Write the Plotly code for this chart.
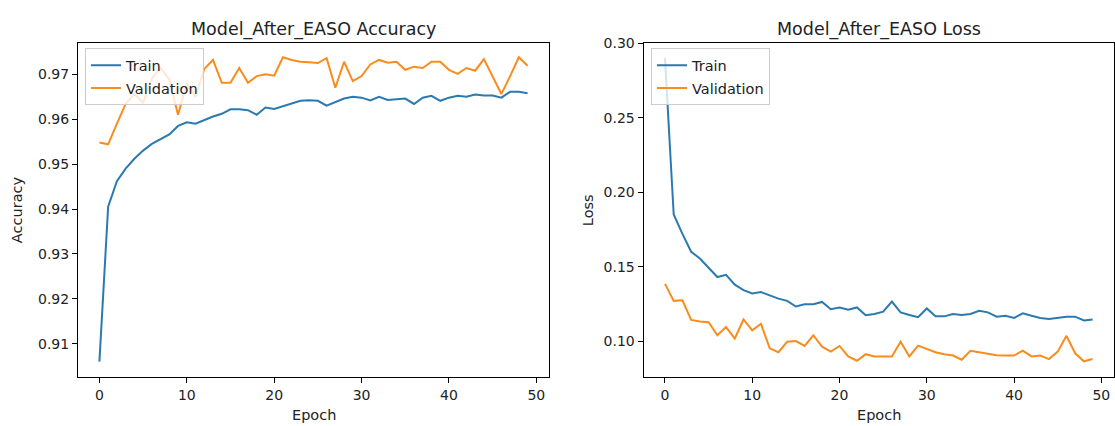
import plotly.graph_objects as go

epochs = list(range(50))

train_acc = [0.906, 0.9405, 0.9462, 0.949, 0.9512, 0.953, 0.9545, 0.9555, 0.9566, 0.9585,
             0.9593, 0.959, 0.9598, 0.9606, 0.9612, 0.9622, 0.9622, 0.962, 0.961, 0.9626,
             0.9623, 0.9629, 0.9635, 0.9641, 0.9642, 0.9641, 0.963, 0.9638, 0.9646, 0.965,
             0.9648, 0.9642, 0.965, 0.9643, 0.9645, 0.9646, 0.9634, 0.9648, 0.9652, 0.9641,
             0.9648, 0.9652, 0.965, 0.9655, 0.9653, 0.9653, 0.9648, 0.9661, 0.9661, 0.9658]

val_acc = [0.9548, 0.9544, 0.959, 0.9634, 0.9656, 0.9637, 0.969, 0.9715, 0.9688, 0.961,
           0.968, 0.965, 0.9712, 0.9732, 0.9681, 0.9681, 0.9714, 0.9681, 0.9696, 0.970,
           0.9697, 0.9738, 0.9732, 0.9728, 0.9727, 0.9725, 0.9736, 0.967, 0.9728, 0.9685,
           0.9696, 0.9722, 0.9732, 0.9726, 0.9728, 0.971, 0.9717, 0.9714, 0.9728, 0.9728,
           0.971, 0.9701, 0.9714, 0.9708, 0.9734, 0.9696, 0.9656, 0.9696, 0.9738, 0.9719]

train_loss = [0.290, 0.185, 0.172, 0.160, 0.1555, 0.1489, 0.143, 0.1445, 0.1379, 0.1342,
              0.132, 0.1329, 0.1307, 0.1285, 0.127, 0.1232, 0.1247, 0.1247, 0.1263, 0.1214,
              0.1226, 0.1211, 0.1226, 0.1173, 0.1182, 0.1197, 0.1265, 0.1193, 0.1175, 0.116,
              0.1219, 0.1166, 0.1166, 0.1182, 0.1175, 0.1182, 0.1204, 0.1193, 0.1164, 0.117,
              0.1155, 0.1186, 0.117, 0.1155, 0.1149, 0.1155, 0.1164, 0.1164, 0.1138, 0.1145]

val_loss = [0.1384, 0.127, 0.1274, 0.1142, 0.1131, 0.1127, 0.1039, 0.1094, 0.1017, 0.1145,
            0.1072, 0.1116, 0.0951, 0.0925, 0.0995, 0.100, 0.0967, 0.1039, 0.0962, 0.0929,
            0.0967, 0.0897, 0.0868, 0.0912, 0.0897, 0.0897, 0.0897, 0.0995, 0.0897, 0.0969,
            0.0945, 0.0925, 0.0912, 0.0903, 0.0875, 0.0934, 0.0925, 0.0914, 0.0905, 0.0903,
            0.0903, 0.0936, 0.0897, 0.0903, 0.0879, 0.0929, 0.1035, 0.0918, 0.0864, 0.0879]

acc_ticks = [0.91, 0.92, 0.93, 0.94, 0.95, 0.96, 0.97]
loss_ticks = [0.10, 0.15, 0.20, 0.25, 0.30]
epoch_ticks = [0, 10, 20, 30, 40, 50]

BLUE = "#2a7ab0"
ORANGE = "#f98c1c"
FONT = "DejaVu Sans"
TXT = "#222222"

W, H = 1115, 426

fig = go.Figure()
fig.add_trace(go.Scatter(x=epochs, y=train_acc, mode="lines", name="Train",
                         line=dict(color=BLUE, width=2), xaxis="x", yaxis="y",
                         legend="legend", legendgroup="a"))
fig.add_trace(go.Scatter(x=epochs, y=val_acc, mode="lines", name="Validation",
                         line=dict(color=ORANGE, width=2), xaxis="x", yaxis="y",
                         legend="legend", legendgroup="b"))
fig.add_trace(go.Scatter(x=epochs, y=train_loss, mode="lines", name="Train",
                         line=dict(color=BLUE, width=2), xaxis="x2", yaxis="y2",
                         legend="legend2", legendgroup="c"))
fig.add_trace(go.Scatter(x=epochs, y=val_loss, mode="lines", name="Validation",
                         line=dict(color=ORANGE, width=2), xaxis="x2", yaxis="y2",
                         legend="legend2", legendgroup="d"))

# pixel geometry
L1, R1 = 78, 549
L2, R2 = 643.6, 1114
TOP, BOT = 36, 376

def px(x):
    return x / W

def py(y):
    return (H - y) / H

axis_common = dict(showline=True, linecolor="#000000", linewidth=1.1, mirror=True,
                   ticks="outside", ticklen=5, tickwidth=1.1, tickcolor="#000000",
                   showgrid=False, zeroline=False,
                   tickfont=dict(family=FONT, size=14, color=TXT))

legend_common = dict(bgcolor="rgba(255,255,255,0.8)", bordercolor="#cccccc", borderwidth=1,
                     font=dict(family=FONT, size=14.5, color=TXT),
                     xanchor="left", yanchor="top", tracegroupgap=1,
                     entrywidth=95, entrywidthmode="pixels")

fig.update_layout(
    width=W, height=H,
    margin=dict(l=0, r=0, t=0, b=0),
    paper_bgcolor="white", plot_bgcolor="white",
    showlegend=True,
    xaxis=dict(domain=[px(L1), px(R1)], range=[-2.45, 51.45], tickvals=epoch_ticks,
               anchor="y", **axis_common),
    yaxis=dict(domain=[py(BOT), py(TOP)], range=[0.9026, 0.9769], tickvals=acc_ticks,
               tickformat=".2f", anchor="x", **axis_common),
    xaxis2=dict(domain=[px(L2), px(R2)], range=[-2.45, 51.45], tickvals=epoch_ticks,
                anchor="y2", **axis_common),
    yaxis2=dict(domain=[py(BOT), py(TOP)], range=[0.0759, 0.300], tickvals=loss_ticks,
                tickformat=".2f", anchor="x2", **axis_common),
    legend=dict(x=px(85), y=py(41), **legend_common),
    legend2=dict(x=px(651), y=py(41), **legend_common),
)

annotations = [
    dict(text="Model_After_EASO Accuracy", x=px((L1 + R1) / 2), y=py(22),
         font=dict(family=FONT, size=17.5, color=TXT)),
    dict(text="Model_After_EASO Loss", x=px((L2 + R2) / 2), y=py(22),
         font=dict(family=FONT, size=17.5, color=TXT)),
    dict(text="Epoch", x=px((L1 + R1) / 2), y=py(415),
         font=dict(family=FONT, size=14.5, color=TXT)),
    dict(text="Epoch", x=px((L2 + R2) / 2), y=py(415),
         font=dict(family=FONT, size=14.5, color=TXT)),
    dict(text="Accuracy", x=px(17), y=py((TOP + BOT) / 2), textangle=-90,
         font=dict(family=FONT, size=14.5, color=TXT)),
    dict(text="Loss", x=px(588), y=py((TOP + BOT) / 2), textangle=-90,
         font=dict(family=FONT, size=14.5, color=TXT)),
]
for a in annotations:
    a.update(xref="paper", yref="paper", showarrow=False, xanchor="center", yanchor="middle")
fig.update_layout(annotations=annotations)

fig.write_html("out.html")
